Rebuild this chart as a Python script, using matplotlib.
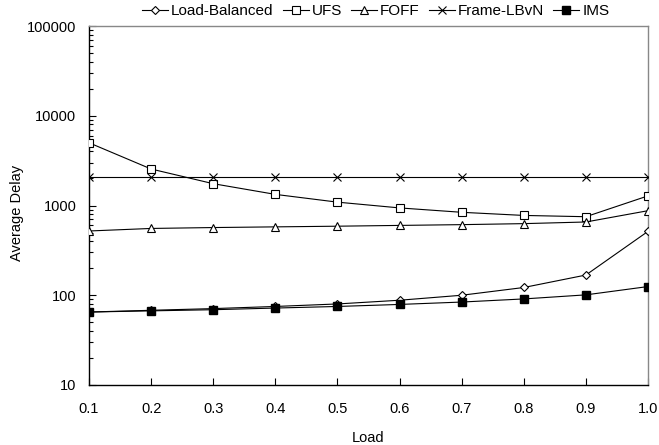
import matplotlib
matplotlib.use("Agg")
import matplotlib.pyplot as plt
from matplotlib.ticker import LogLocator, FixedLocator, NullFormatter

plt.rcParams["font.family"] = ["Liberation Sans", "DejaVu Sans"]

# valeurs
load = [0.1, 0.2, 0.3, 0.4, 0.5, 0.6, 0.7, 0.8, 0.9, 1.0]
load_balanced = [65, 68, 71, 75, 80, 88, 100, 122, 168, 515]
ufs = [5000, 2550, 1750, 1330, 1090, 940, 840, 775, 750, 1280]
foff = [520, 555, 568, 578, 588, 600, 612, 628, 655, 875]
frame_lbvn = [2100, 2100, 2100, 2100, 2100, 2100, 2100, 2100, 2100, 2100]
ims = [65, 67, 69, 72, 75, 79, 84, 91, 101, 125]

fig = plt.figure(figsize=(6.59, 4.45), dpi=100)
ax = fig.add_axes([89 / 659, 1 - 385 / 445, (648 - 89) / 659, (385 - 26) / 445])

lw = 0.8
ms = 5
ax.plot(load, load_balanced, color="black", lw=lw, marker="D", ms=4,
        mfc="white", mec="black", mew=0.8, label="Load-Balanced", zorder=3)
ax.plot(load, ufs, color="black", lw=lw, marker="s", ms=ms + 1,
        mfc="white", mec="black", mew=0.8, label="UFS", zorder=3)
ax.plot(load, foff, color="black", lw=lw, marker="^", ms=ms + 1,
        mfc="white", mec="black", mew=0.8, label="FOFF", zorder=3)
ax.plot(load, frame_lbvn, color="black", lw=lw, marker="x", ms=ms + 1,
        mec="black", mew=0.8, label="Frame-LBvN", zorder=3)
ax.plot(load, ims, color="black", lw=lw, marker="s", ms=ms + 1,
        mfc="black", mec="black", label="IMS", zorder=4)

ax.set_yscale("log")
ax.set_ylim(10, 100000)
ax.set_xlim(0.1, 1.0)
ax.xaxis.set_major_locator(FixedLocator(load))
ax.set_xticklabels([f"{v:.1f}" for v in load])
ax.yaxis.set_major_locator(FixedLocator([10, 100, 1000, 10000, 100000]))
ax.set_yticklabels(["10", "100", "1000", "10000", "100000"])
ax.yaxis.set_minor_locator(LogLocator(base=10, subs=range(2, 10)))
ax.yaxis.set_minor_formatter(NullFormatter())

ax.tick_params(axis="both", which="major", direction="in", length=5,
               width=0.8, labelsize=10.5)
ax.tick_params(axis="y", which="minor", direction="in", length=3, width=0.8)
ax.tick_params(axis="y", pad=9)
ax.tick_params(axis="x", pad=12)

for side in ["left", "bottom"]:
    ax.spines[side].set_color("black")
    ax.spines[side].set_linewidth(1.0)
for side in ["top", "right"]:
    ax.spines[side].set_color("#888888")
    ax.spines[side].set_linewidth(1.0)

ax.set_xlabel("Load", fontsize=10.5)
ax.xaxis.label.set_va("center")
ax.xaxis.set_label_coords(0.5, -0.147)
ax.set_ylabel("Average Delay", fontsize=10.5)
ax.yaxis.label.set_va("center")
ax.yaxis.set_label_coords(-0.129, 0.48)

ax.legend(loc="lower center", bbox_to_anchor=(0.513, 1.0), ncol=5, frameon=False,
          fontsize=11, handlelength=1.7, handletextpad=0.2, columnspacing=0.6,
          borderaxespad=0.1)

fig.savefig("out.png", dpi=100)
